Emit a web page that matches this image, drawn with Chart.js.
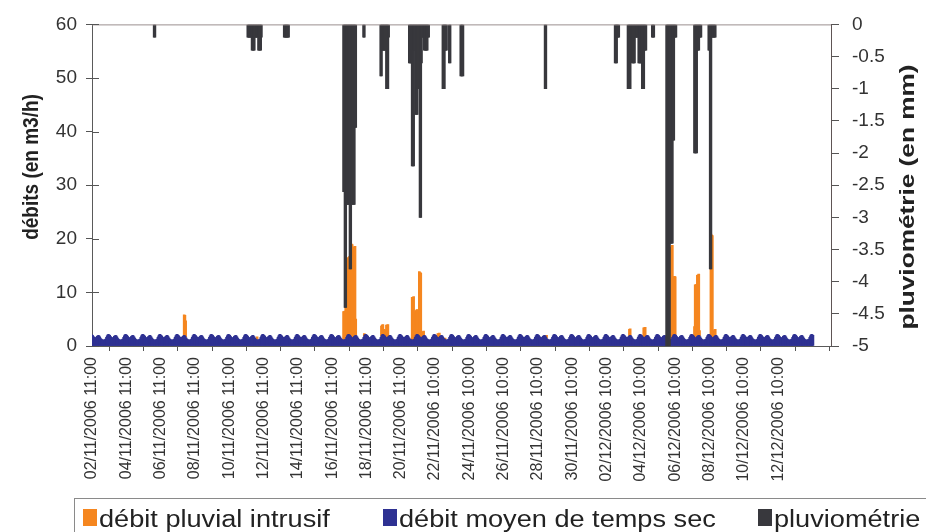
<!DOCTYPE html>
<html lang="fr">
<head>
<meta charset="utf-8">
<title>Débits et pluviométrie</title>
<script src="https://cdn.jsdelivr.net/npm/chart.js@4.4.1/dist/chart.umd.min.js"></script>
<style>
  body { margin: 0; background: #fff; }
  #box { position: relative; width: 926px; height: 532px; overflow: hidden; font-family: "Liberation Sans", Arial, sans-serif; }
  #debits { position: absolute; left: 0; top: 0; }
  #legende { position: absolute; left: 74px; top: 498px; width: 900px; height: 60px; border-top: 1px solid #8a8a8a; border-left: 1px solid #8a8a8a; }
  .item { position: absolute; top: 10px; height: 40px; }
  .carre { position: absolute; left: 0; top: 0; width: 14px; height: 17px; }
  .txt { position: absolute; left: 16px; top: -1.5px; font-size: 23px; line-height: 23px; white-space: nowrap; color: #222; transform: scaleX(1.18); transform-origin: 0 0; }
</style>
</head>
<body>
<div id="box">
  <canvas id="debits" width="926" height="532"></canvas>
  <div id="legende"></div>
</div>
<script>
// x = hour index from 02/11/2006 11:00, one sample per hour
var nbHeures = 1010;
var xMax = 1034;

// labels every 48 samples (the last tick has no label)
var dateLabels = [
  '02/11/2006 11:00', '04/11/2006 11:00', '06/11/2006 11:00', '08/11/2006 11:00',
  '10/11/2006 11:00', '12/11/2006 11:00', '14/11/2006 11:00', '16/11/2006 11:00',
  '18/11/2006 11:00', '20/11/2006 11:00', '22/11/2006 10:00', '24/11/2006 10:00',
  '26/11/2006 10:00', '28/11/2006 10:00', '30/11/2006 10:00', '02/12/2006 10:00',
  '04/12/2006 10:00', '06/12/2006 10:00', '08/12/2006 10:00', '10/12/2006 10:00',
  '12/12/2006 10:00', ''
];

// mean dry weather flow, m3/h, hour by hour from 11:00 to 10:00
var profilSec = [2.1, 2.0, 1.8, 1.6, 1.5, 1.5, 1.6, 1.8, 1.9, 2.0, 1.9, 1.7,
                 1.5, 1.3, 1.2, 1.1, 1.1, 1.1, 1.2, 1.3, 1.6, 1.9, 2.1, 2.2];

// intrusive storm flow, m3/h: [first hour, hourly values]
var intrusif = [
  [129, [3.8, 3.8, 3.0]],
  [231, [0.6]],
  [352, [5.3, 5.3, 5.3, 14.6, 14.6, 14.6, 11.0, 11.0, 14.6, 14.6, 17.4, 17.4, 17.4, 16.7, 16.7, 16.7, 16.7, 3.0]],
  [381, [0.4]],
  [405, [1.8, 1.8, 1.8, 1.0, 1.0, 1.2, 1.2, 2.4, 2.4, 2.4]],
  [448, [8.0, 8.0, 8.0, 4.6, 4.6, 4.6, 4.6, 4.6, 4.6, 1.0, 12.1, 12.1, 12.1, 1.0, 0.9, 0.9, 0.9]],
  [484, [0.8, 0.8, 0.8]],
  [494, [0.3]],
  [636, [0.5]],
  [752, [1.2, 1.2]],
  [772, [1.9, 1.9, 1.9]],
  [808, [17.2, 17.2, 17.2, 17.2, 17.2, 10.8, 10.8, 10.8, 10.8]],
  [843, [2.0, 9.9, 9.9, 9.9, 11.4, 11.4, 11.4, 1.0]],
  [866, [19.1, 19.1, 19.1, 1.2, 1.2, 1.2, 1.2]]
];

// rainfall, mm (negative, hangs from the top): [first hour, hourly values]
var pluie = [
  [87, [-0.2, -0.2]],
  [218, [-0.2, -0.2, -0.2, -0.2, -0.2, -0.2, -0.4, -0.4, -0.4, -0.4, -0.2, -0.2, -0.2, -0.2, -0.2, -0.4, -0.4, -0.4, -0.4, -0.2]],
  [269, [-0.2, -0.2, -0.2, -0.2, -0.2, -0.2, -0.2]],
  [352, [-2.6, -2.6, -4.4, -4.4, -2.8, -2.8, -2.8, -2.0, -2.8, -3.8, -3.8, -2.8, -2.8, -2.4, -2.8, -2.8, -1.6, -1.6]],
  [380, [-0.2, -0.2]],
  [404, [-0.8, -0.8, -0.4, -0.4, -0.4, -0.4, -0.4, -0.4, -1.0, -1.0, -1.0, -0.2]],
  [444, [-0.6, -0.6, -0.6, -0.6, -2.2, -2.2, -2.2, -0.4, -0.4, -1.4, -1.4, -1.4, -1.0, -1.0, -1.0, -3.0, -3.0, -0.6, -0.2, -0.2, -0.2, -0.4, -0.4, -0.4, -0.4, -0.4, -0.2, -0.2]],
  [491, [-1.0, -1.0, -1.0, -0.4, -0.4, -0.4]],
  [500, [-0.6, -0.6]],
  [516, [-0.8, -0.8, -0.8, -0.8]],
  [634, [-1.0, -1.0]],
  [732, [-0.6, -0.6, -0.6, -0.2, -0.2, -0.2]],
  [750, [-1.0, -1.0, -1.0, -1.0, -0.2, -0.2, -0.6, -0.6, -0.6, -0.6, -0.2, -0.2, -0.2, -0.2, -0.2, -0.6, -0.6, -0.6, -0.6, -0.6, -1.0, -1.0, -1.0, -0.4, -0.4, -0.4]],
  [784, [-0.2, -0.2, -0.2]],
  [804, [-5.0, -5.0, -5.0, -5.0, -5.0, -3.4, -3.4, -3.4, -3.4, -1.8, -1.8, -0.2, -0.2, -0.2]],
  [843, [-2.0, -2.0, -2.0, -2.0, -0.4, -0.4, -0.4, -0.2, -0.2, -0.2]],
  [863, [-0.4, -0.4, -3.8, -3.8, -0.2, -0.2, -0.2, -0.2, -0.2, -0.2]]
];

var titreGauche = 'débits (en m3/h)';
var titreDroite = 'pluviométrie (en mm)';

var ORANGE = '#f5861f';
var BLEU = '#2e3192';
var NOIR = '#38383d';
var POLICE = '"Liberation Sans", Arial, sans-serif';

function enPoints(blocs) {
  var out = [];
  blocs.forEach(function (b) {
    b[1].forEach(function (v, k) { out.push({ x: b[0] + k, y: v }); });
  });
  return out;
}

var sec = [];
for (var h = 0; h < nbHeures; h++) {
  sec.push({ x: h, y: profilSec[h % 24] });
}

var series = [
  { label: 'débit pluvial intrusif', data: enPoints(intrusif), backgroundColor: ORANGE, yAxisID: 'y', barThickness: 2, order: 2 },
  { label: 'débit moyen de temps sec', data: sec, backgroundColor: BLEU, yAxisID: 'y', barThickness: 1.6, order: 1 },
  { label: 'pluviométrie', data: enPoints(pluie), backgroundColor: NOIR, yAxisID: 'y2', barThickness: 2, order: 0 }
];

// frame, inner ticks of the left axis and the two axis titles
var cadre = {
  id: 'cadre',
  afterDraw: function (chart) {
    var ctx = chart.ctx, a = chart.chartArea;
    ctx.save();
    ctx.strokeStyle = '#9a8f8f';
    ctx.lineWidth = 1;
    ctx.beginPath();
    ctx.moveTo(a.left, a.top + 0.5);
    ctx.lineTo(a.right, a.top + 0.5);
    ctx.stroke();

    ctx.strokeStyle = '#555';
    ctx.beginPath();
    chart.scales.y.ticks.forEach(function (t) {
      var py = Math.round(chart.scales.y.getPixelForValue(t.value)) + 0.5;
      ctx.moveTo(a.left, py);
      ctx.lineTo(a.left + 7, py);
    });
    ctx.stroke();

    ctx.fillStyle = '#222';
    ctx.textAlign = 'center';
    ctx.textBaseline = 'middle';
    ctx.font = 'bold 19px ' + POLICE;
    ctx.save();
    ctx.translate(32, 167);
    ctx.rotate(-Math.PI / 2);
    ctx.scale(1, 1.2);
    ctx.fillText(titreGauche, 0, 0);
    ctx.restore();

    ctx.font = 'bold 20px ' + POLICE;
    var w = ctx.measureText(titreDroite).width;
    ctx.save();
    ctx.translate(908, 197);
    ctx.rotate(-Math.PI / 2);
    ctx.scale(265 / w, 1);
    ctx.fillText(titreDroite, 0, 0);
    ctx.restore();
    ctx.restore();
  }
};

new Chart(document.getElementById('debits'), {
  type: 'bar',
  data: { datasets: series },
  options: {
    responsive: false,
    animation: false,
    layout: { padding: { top: 21, left: 0, right: 0, bottom: 0 } },
    plugins: { legend: { display: false }, tooltip: { enabled: false } },
    scales: {
      x: {
        type: 'linear',
        min: 0,
        max: xMax,
        stacked: true,
        offset: false,
        grid: { drawOnChartArea: false, drawTicks: true, tickLength: 5, color: '#555' },
        border: { color: '#5a5a5a' },
        afterBuildTicks: function (s) {
          s.ticks = dateLabels.map(function (l, i) { return { value: i * 48 }; });
        },
        afterFit: function (s) { s.height = 532 - 346; },
        ticks: {
          autoSkip: false,
          maxRotation: 90,
          minRotation: 90,
          padding: 6,
          color: '#333',
          font: { family: POLICE, size: 16 },
          callback: function (v, i) { return dateLabels[i]; }
        }
      },
      y: {
        position: 'left',
        stacked: true,
        min: 0,
        max: 60,
        grid: { drawOnChartArea: false, drawTicks: true, tickLength: 6, color: '#555' },
        border: { color: '#5a5a5a' },
        afterFit: function (s) { s.width = 92; },
        ticks: { stepSize: 10, padding: 9, color: '#333', font: { family: POLICE, size: 19 } }
      },
      y2: {
        position: 'right',
        min: -5,
        max: 0,
        grid: { drawOnChartArea: false, drawTicks: true, tickLength: 8, color: '#555' },
        border: { color: '#5e5555' },
        afterFit: function (s) { s.width = 926 - 831; },
        ticks: {
          stepSize: 0.5,
          padding: 13,
          color: '#333',
          font: { family: POLICE, size: 19 },
          callback: function (v) { return String(Math.round(v * 10) / 10); }
        }
      }
    }
  },
  plugins: [cadre]
});

// legend under the chart
var legendeX = [8, 308, 683];
var legende = document.getElementById('legende');
series.forEach(function (s, i) {
  var item = document.createElement('div');
  item.className = 'item';
  item.style.left = legendeX[i] + 'px';
  var carre = document.createElement('span');
  carre.className = 'carre';
  carre.style.background = s.backgroundColor;
  var txt = document.createElement('span');
  txt.className = 'txt';
  txt.textContent = s.label;
  item.appendChild(carre);
  item.appendChild(txt);
  legende.appendChild(item);
});
</script>
</body>
</html>
